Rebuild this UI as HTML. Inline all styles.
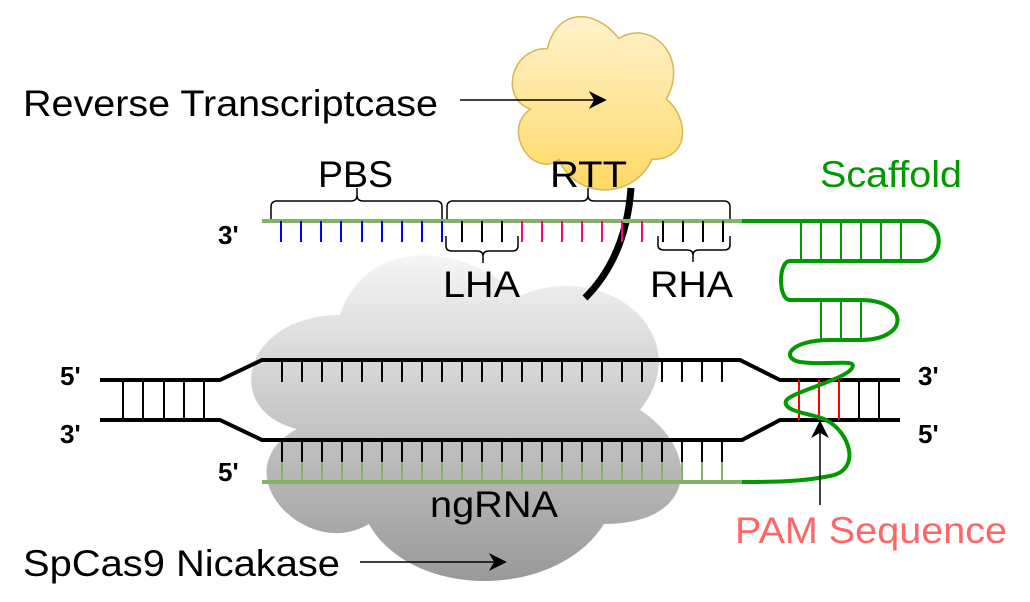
<!DOCTYPE html>
<html><head><meta charset="utf-8"><style>html,body{margin:0;padding:0;background:#fff;}svg{display:block;font-family:"Liberation Sans",Arial,sans-serif;}</style></head><body>
<svg width="1030" height="602" viewBox="0 0 1030 602" xmlns="http://www.w3.org/2000/svg">
<defs>
<linearGradient id="gg" x1="0" y1="0" x2="0" y2="1"><stop offset="0" stop-color="#f5f5f5"/><stop offset="1" stop-color="#999999"/></linearGradient>
<linearGradient id="yg" x1="0" y1="0" x2="0" y2="1"><stop offset="0" stop-color="#fff2cc"/><stop offset="1" stop-color="#ffd966"/></linearGradient>
<marker id="ar2" viewBox="0 0 10 10" refX="9" refY="5" markerWidth="18" markerHeight="18" markerUnits="userSpaceOnUse" orient="auto"><path d="M0,0 L10,5 L0,10 L3,5 Z" fill="#000"/></marker>
</defs>
<path d="M340,315 C244,315 220,410 296.8,429 C220,471 306.4,562 368.8,524 C412,600 556,600 604,524 C700,524 700,448 640,410 C700,334 604,258 520,296 C460,239 364,239 340,315 Z" fill="url(#gg)" stroke="none"/>
<path d="M547.5,48.5 C509.5,48.5 500,99 530.4,109 C500,131 534.2,179.5 558.9,159.4 C576,200 633,200 652,159.4 C690,159.4 690,119 666.25,99 C690,58.6 652,18 618.75,38.4 C595,8 557,8 547.5,48.5 Z" fill="url(#yg)" stroke="#d6b656" stroke-width="1.5"/>
<path d="M631,188 C628,230 615,268 585,298" fill="none" stroke="#000" stroke-width="7"/>
<g stroke-width="2">
<line x1="262" y1="221" x2="742" y2="221" stroke="#82b366" stroke-width="4"/>
<g stroke="#0000ff"><path d="M281,221V242M301,221V242M321,221V242M341,221V242M362,221V242M382,221V242M402,221V242M422,221V242M442,221V242"/></g>
<g stroke="#000"><path d="M462,221V242M482,221V242M502,221V242M663,221V242M683,221V242M703,221V242M723,221V242"/></g>
<g stroke="#ff0080"><path d="M522,221V242M542,221V242M562,221V242M582,221V242M602,221V242M622,221V242M642,221V242"/></g>
</g>
<g fill="none" stroke="#000" stroke-width="1.5">
<path d="M271,219 V207 Q271,201 277,201 H351 Q357,201 357,195 V188 V195 Q357,201 363,201 H436 Q442,201 442,207 V219"/>
<path d="M447,219 V207 Q447,201 453,201 H582 Q588,201 588,195 V188 V195 Q588,201 594,201 H724 Q730,201 730,207 V219"/>
<path d="M446,236 V246 Q446,251 452,251 H477 Q483,251 483,256 V263 V256 Q483,251 489,251 H512 Q518,251 518,246 V236"/>
<path d="M658,236 V245 Q658,250 664,250 H687 Q693,250 693,255 V262 V255 Q693,250 699,250 H724 Q730,250 730,245 V236"/>
</g>
<g fill="none" stroke="#000" stroke-width="4">
<path d="M100,380 H220 L262,360 H740 L780,380 H900"/>
<path d="M100,420 H220 L262,440 H742 L780,420 H900"/>
</g>
<g stroke="#000" stroke-width="2">
<path d="M123,380V420M143,380V420M164,380V420M184,380V420M204,380V420M859,380V420M879,380V420"/>
<path d="M282,360V382M302,360V382M322,360V382M342,360V382M362,360V382M382,360V382M402,360V382M422,360V382M442,360V382M462,360V382M482,360V382M502,360V382M522,360V382M542,360V382M562,360V382M582,360V382M602,360V382M622,360V382M642,360V382M662,360V382M682,360V382M702,360V382M722,360V382"/>
<path d="M282,440V462M302,440V462M322,440V462M342,440V462M362,440V462M382,440V462M402,440V462M422,440V462M442,440V462M462,440V462M482,440V462M502,440V462M522,440V462M542,440V462M562,440V462M582,440V462M602,440V462M622,440V462M642,440V462M662,440V462M682,440V462M702,440V462M722,440V462"/>
</g>
<g stroke="#82b366" stroke-width="2">
<path d="M282,462V482M302,462V482M322,462V482M342,462V482M362,462V482M382,462V482M402,462V482M422,462V482M442,462V482M462,462V482M482,462V482M502,462V482M522,462V482M542,462V482M562,462V482M582,462V482M602,462V482M622,462V482M642,462V482M662,462V482M682,462V482M702,462V482M722,462V482"/>
</g>
<line x1="262" y1="482" x2="742" y2="482" stroke="#82b366" stroke-width="4"/>
<g stroke="#ff0000" stroke-width="2"><path d="M799,380V420M819,380V420M839,380V420"/></g>
<g stroke="#009900" stroke-width="2"><path d="M801,221V261M821,221V261M841,221V261M861,221V261M881,221V261M901,221V261M821,300V340M841,300V340M861,300V340"/></g>
<path d="M742,221 H920 C945,221 945,261 920,261 H790 C778,261 778,300 790,300 H860 C910,300 910,340 860,340 H830 C790,340 780,358 800,362 C830,366 858,358 852,368 C845,380 790,392 786,401 C782,412 815,414 826,420 C850,432 862,470 830,476 C800,482 770,482 742,482" fill="none" stroke="#009900" stroke-width="4"/>
<line x1="460" y1="100" x2="605" y2="100" stroke="#000" stroke-width="1.5" marker-end="url(#ar2)"/>
<line x1="360" y1="562" x2="505" y2="562" stroke="#000" stroke-width="1.5" marker-end="url(#ar2)"/>
<line x1="820" y1="505" x2="820" y2="422" stroke="#000" stroke-width="1.5" marker-end="url(#ar2)"/>
<g font-size="37" fill="#000" lengthAdjust="spacingAndGlyphs">
<text x="23" y="116" textLength="415" lengthAdjust="spacingAndGlyphs">Reverse Transcriptcase</text>
<text x="318" y="187" textLength="75" lengthAdjust="spacingAndGlyphs">PBS</text>
<text x="550" y="187" textLength="77" lengthAdjust="spacingAndGlyphs">RTT</text>
<text x="443" y="297" textLength="77" lengthAdjust="spacingAndGlyphs">LHA</text>
<text x="650" y="297" textLength="83" lengthAdjust="spacingAndGlyphs">RHA</text>
<text x="430" y="517" textLength="128" lengthAdjust="spacingAndGlyphs">ngRNA</text>
<text x="23" y="576" textLength="317" lengthAdjust="spacingAndGlyphs">SpCas9 Nicakase</text>
<text x="820" y="187" fill="#009900" textLength="142" lengthAdjust="spacingAndGlyphs">Scaffold</text>
<text x="735" y="543" fill="#ff6666" textLength="272" lengthAdjust="spacingAndGlyphs">PAM Sequence</text>
</g>
<g font-size="26" font-weight="bold" fill="#000">
<text x="218" y="244">3'</text>
<text x="60" y="385">5'</text>
<text x="60" y="443">3'</text>
<text x="918" y="385">3'</text>
<text x="918" y="443">5'</text>
<text x="218" y="481">5'</text>
</g>
</svg>
</body></html>
